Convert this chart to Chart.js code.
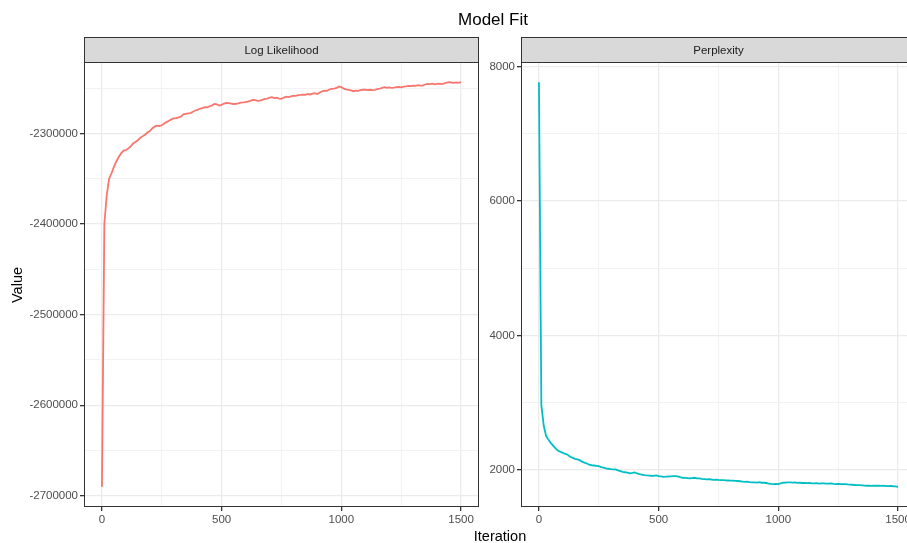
<!DOCTYPE html>
<html>
<head>
<meta charset="utf-8">
<script src="https://cdn.jsdelivr.net/npm/chart.js@4"></script>
<style>
  body { margin: 0; background: #fff; }
  #wrap { position: relative; width: 907px; height: 543px; overflow: hidden; font-family: "Liberation Sans", Arial, sans-serif; }
  canvas { position: absolute; top: 0; }
  .lbl { position: absolute; white-space: nowrap; transform: translate(-50%, -50%); }
  .strip { font-size: 11.5px; color: #1A1A1A; }
</style>
</head>
<body>
<div id="wrap">
  <canvas id="llChart" width="480" height="543" style="left:0px"></canvas>
  <canvas id="ppChart" width="436" height="543" style="left:480px"></canvas>
  <div class="lbl" style="left:493px; top:20px; font-size:17px; color:#000">Model Fit</div>
  <div class="lbl" style="left:500px; top:536px; font-size:14.5px; color:#000">Iteration</div>
  <div class="lbl" style="left:17px; top:285px; font-size:14.5px; color:#000; transform: translate(-50%, -50%) rotate(-90deg)">Value</div>
  <div class="lbl strip" style="left:281.5px; top:50px">Log Likelihood</div>
  <div class="lbl strip" style="left:718.5px; top:50px">Perplexity</div>
</div>
<script>
const iterations = [
  0, 10, 20, 30, 40, 50, 60, 70, 80, 90,
  100, 110, 120, 130, 140, 150, 160, 170, 180, 190,
  200, 210, 220, 230, 240, 250, 260, 270, 280, 290,
  300, 310, 320, 330, 340, 350, 360, 370, 380, 390,
  400, 410, 420, 430, 440, 450, 460, 470, 480, 490,
  500, 510, 520, 530, 540, 550, 560, 570, 580, 590,
  600, 610, 620, 630, 640, 650, 660, 670, 680, 690,
  700, 710, 720, 730, 740, 750, 760, 770, 780, 790,
  800, 810, 820, 830, 840, 850, 860, 870, 880, 890,
  900, 910, 920, 930, 940, 950, 960, 970, 980, 990,
  1000, 1010, 1020, 1030, 1040, 1050, 1060, 1070, 1080, 1090,
  1100, 1110, 1120, 1130, 1140, 1150, 1160, 1170, 1180, 1190,
  1200, 1210, 1220, 1230, 1240, 1250, 1260, 1270, 1280, 1290,
  1300, 1310, 1320, 1330, 1340, 1350, 1360, 1370, 1380, 1390,
  1400, 1410, 1420, 1430, 1440, 1450, 1460, 1470, 1480, 1490,
  1500
];

const logLikelihood = [
  -2690000, -2400000, -2368000, -2350000, -2344000, -2337000, -2331000, -2326000, -2322000, -2319000,
  -2318500, -2316500, -2314500, -2311000, -2309500, -2307500, -2305000, -2303000, -2301500, -2299000,
  -2297500, -2294500, -2292500, -2291500, -2291800, -2291000, -2289000, -2287500, -2286000, -2284500,
  -2283500, -2283000, -2282200, -2281500, -2279000, -2278500, -2278000, -2277500, -2276000, -2274700,
  -2274000, -2272500, -2272000, -2271000, -2271200, -2270000, -2269000, -2267500, -2268000, -2269200,
  -2268500, -2267000, -2266200, -2266500, -2267000, -2267500, -2267300, -2266800, -2266000, -2265800,
  -2265500, -2265000, -2264000, -2262900, -2263300, -2264000, -2263700, -2263000, -2262000, -2261500,
  -2260500, -2260000, -2261000, -2260500, -2261500, -2261800, -2260500, -2259500, -2260000, -2259000,
  -2258200, -2258500, -2257800, -2257500, -2257100, -2257500, -2256500, -2257000, -2256000, -2255600,
  -2256500, -2254800, -2253500, -2252700, -2253000, -2251500, -2250800, -2250500, -2249800, -2248300,
  -2249000, -2250500, -2251500, -2252000, -2252500, -2253400, -2252800, -2253000, -2252200, -2251800,
  -2251600, -2252300, -2251800, -2252200, -2252000, -2251000, -2250500, -2249800, -2249000, -2249700,
  -2249300, -2249800, -2249500, -2249000, -2248800, -2249200, -2248300, -2248000, -2247500, -2247800,
  -2247200, -2247500, -2246800, -2247300, -2247200, -2246000, -2245300, -2245500, -2245000, -2245800,
  -2245300, -2245100, -2245500, -2244800, -2244000, -2243500, -2243800, -2244300, -2243700, -2244200,
  -2243500
];

const perplexity = [
  7766, 2965, 2658, 2505, 2450, 2400, 2360, 2320, 2287, 2270,
  2257, 2240, 2228, 2198, 2185, 2168, 2160, 2148, 2125, 2110,
  2098, 2080, 2072, 2068, 2064, 2059, 2045, 2035, 2025, 2020,
  2015, 2012, 2010, 1995, 1985, 1975, 1968, 1962, 1951, 1958,
  1966, 1950, 1940, 1932, 1926, 1922, 1918, 1916, 1915, 1920,
  1910, 1905, 1900, 1902, 1905, 1908, 1911, 1911, 1905, 1895,
  1886, 1884, 1880, 1876, 1882, 1886, 1878, 1876, 1870, 1866,
  1862, 1865, 1860, 1856, 1858, 1854, 1852, 1850, 1848, 1845,
  1842, 1843, 1841, 1838, 1834, 1830, 1826, 1828, 1822, 1818,
  1817, 1815, 1820, 1812, 1812, 1808, 1800, 1794, 1792, 1795,
  1792, 1802, 1812, 1814, 1816, 1817, 1814, 1816, 1810, 1812,
  1808, 1811, 1806, 1808, 1803, 1802, 1805, 1800, 1803, 1802,
  1800, 1798, 1801, 1795, 1792, 1793, 1790, 1792, 1792, 1788,
  1785, 1782, 1778, 1777, 1775, 1772, 1768, 1767, 1770, 1766,
  1768, 1767, 1767, 1765, 1768, 1763, 1762, 1764, 1760, 1758,
  1752
];

const xTicks = [0, 250, 500, 750, 1000, 1250, 1500];
const xMajor = [0, 500, 1000, 1500];
const llTicks = [-2700000, -2650000, -2600000, -2550000, -2500000, -2450000, -2400000, -2350000, -2300000, -2250000];
const llMajor = [-2700000, -2600000, -2500000, -2400000, -2300000];
const ppTicks = [2000, 3000, 4000, 5000, 6000, 7000, 8000];
const ppMajor = [2000, 4000, 6000, 8000];

const FONT = '"Liberation Sans", Arial, sans-serif';

// strip box on top + panel border, like ggplot facets
const panelFrame = {
    id: 'panelFrame',
    afterDraw(chart)
    {
        const a = chart.chartArea;
        const ctx = chart.ctx;
        ctx.save();
        ctx.fillStyle = '#D9D9D9';
        ctx.fillRect(a.left, 37, a.right - a.left, a.top - 37);
        ctx.strokeStyle = '#333333';
        ctx.lineWidth = 1;
        ctx.strokeRect(a.left + 0.5, 37.5, a.right - a.left - 1, a.top - 37);
        ctx.strokeRect(a.left + 0.5, a.top + 0.5, a.right - a.left - 1, a.bottom - a.top - 1);
        ctx.restore();
    }
};

function expand(values)
{
    const lo = Math.min(...values);
    const hi = Math.max(...values);
    const pad = (hi - lo) * 0.05;
    return [lo - pad, hi + pad];
}

function makePanel(canvasId, values, color, yTicks, yMajor, yWidth)
{
    const points = iterations.map((it, i) => ({ x: it, y: values[i] }));
    const yRange = expand(values);
    const isMajor = (list, ctx) => ctx.tick && list.includes(ctx.tick.value);

    return new Chart(document.getElementById(canvasId), {
        type: 'line',
        data: {
            datasets: [{
                data: points,
                borderColor: color,
                borderWidth: 1.8,
                pointRadius: 0,
                tension: 0
            }]
        },
        plugins: [panelFrame],
        options: {
            responsive: false,
            animation: false,
            events: [],
            layout: { padding: { top: 62, right: canvasId == 'llChart' ? 1 : 0, left: 0, bottom: 0 } },
            plugins: { legend: { display: false }, tooltip: { enabled: false } },
            scales: {
                x: {
                    type: 'linear',
                    min: -75,
                    max: 1575,
                    afterBuildTicks: s => { s.ticks = xTicks.map(v => ({ value: v })); },
                    afterFit: s => { s.height = 36; },
                    ticks: {
                        autoSkip: false,
                        maxRotation: 0,
                        padding: 2,
                        color: '#4D4D4D',
                        font: { family: FONT, size: 11.5 },
                        callback: v => xMajor.includes(v) ? String(v) : ''
                    },
                    grid: {
                        color: ctx => isMajor(xMajor, ctx) ? '#EBEBEB' : '#F2F2F2',
                        lineWidth: ctx => isMajor(xMajor, ctx) ? 1.3 : 1,
                        tickColor: ctx => isMajor(xMajor, ctx) ? '#333333' : 'rgba(0,0,0,0)',
                        tickLength: 4
                    },
                    border: { display: false }
                },
                y: {
                    type: 'linear',
                    min: yRange[0],
                    max: yRange[1],
                    afterBuildTicks: s => { s.ticks = yTicks.map(v => ({ value: v })); },
                    afterFit: s => { s.width = yWidth; },
                    ticks: {
                        autoSkip: false,
                        padding: 2,
                        color: '#4D4D4D',
                        font: { family: FONT, size: 11.5 },
                        callback: v => yMajor.includes(v) ? String(v) : ''
                    },
                    grid: {
                        color: ctx => isMajor(yMajor, ctx) ? '#EBEBEB' : '#F2F2F2',
                        lineWidth: ctx => isMajor(yMajor, ctx) ? 1.3 : 1,
                        tickColor: ctx => isMajor(yMajor, ctx) ? '#333333' : 'rgba(0,0,0,0)',
                        tickLength: 4
                    },
                    border: { display: false }
                }
            }
        }
    });
}

makePanel('llChart', logLikelihood, '#F8766D', llTicks, llMajor, 84);
makePanel('ppChart', perplexity, '#00BFC4', ppTicks, ppMajor, 41);
</script>
</body>
</html>
